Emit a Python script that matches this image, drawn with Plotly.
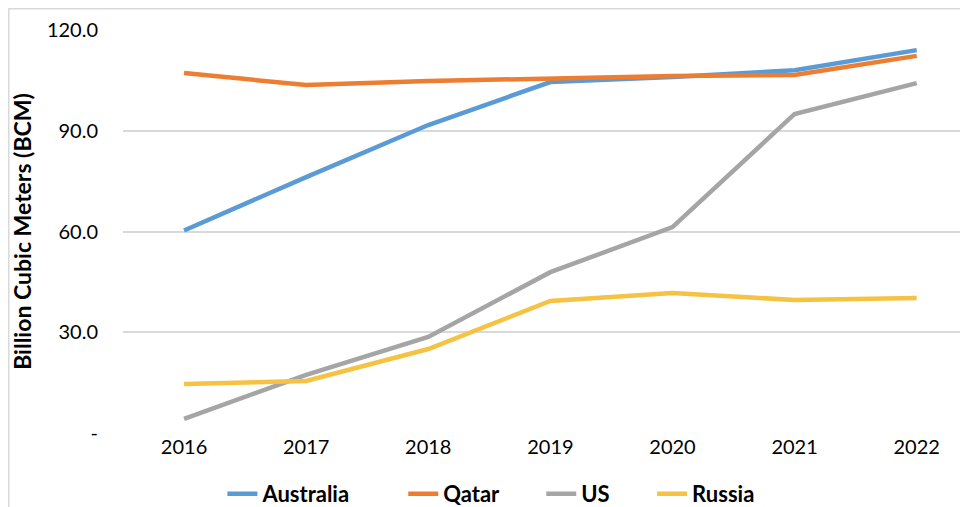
import plotly.graph_objects as go

years = ["2016", "2017", "2018", "2019", "2020", "2021", "2022"]
australia = [60.3, 76.2, 91.7, 104.5, 106.0, 108.0, 114.0]
qatar = [107.2, 103.6, 104.8, 105.7, 106.3, 106.6, 112.3]
us = [4.2, 17.3, 28.6, 47.9, 61.3, 95.0, 104.2]
russia = [14.6, 15.5, 25.0, 39.3, 41.7, 39.6, 40.2]

series = [
    ("Australia", australia, "#5B9BD5"),
    ("Qatar", qatar, "#ED7D31"),
    ("US", us, "#A5A5A5"),
    ("Russia", russia, "#F5C242"),
]

y_tickvals = [0, 30, 60, 90, 120]
y_ticktext = ["-", "30.0", "60.0", "90.0", "120.0"]

FONT = "Lato, 'Open Sans', sans-serif"
PADS = [9, 7, 7, 0]

fig = go.Figure()
for (name, vals, color), pad in zip(series, PADS):
    fig.add_trace(go.Scatter(
        x=years, y=vals, name=name + "\u00a0" * pad, mode="lines",
        line=dict(color=color, width=4.5),
    ))

fig.update_layout(
    width=960, height=499,
    margin=dict(l=115, r=0, t=22, b=74),
    paper_bgcolor="white", plot_bgcolor="white",
    font=dict(family=FONT, color="#000000", size=20),
    showlegend=True,
    legend=dict(
        orientation="h", xref="container", yref="container",
        x=0.503, xanchor="center", y=0.026, yanchor="middle",
        font=dict(family=FONT, size=22, weight="bold", color="#000000"),
        bgcolor="rgba(0,0,0,0)",
    ),
    xaxis=dict(
        type="category", range=[-0.5, 6.42],
        showgrid=False, showline=False, zeroline=False,
        ticks="", 
        tickfont=dict(size=20),
    ),
    yaxis=dict(
        range=[0, 120], tickvals=y_tickvals, ticktext=y_ticktext,
        showgrid=True, gridcolor="#D9D9D9", gridwidth=1.5,
        zeroline=False, showline=False,
        ticks="outside", ticklen=20, tickcolor="rgba(0,0,0,0)",
        tickfont=dict(size=20),
        title=dict(text="Billion Cubic Meters (BCM)",
                   font=dict(size=23, weight="bold"), standoff=10),
    ),
    shapes=[dict(
        type="rect", xref="paper", yref="paper",
        x0=(0.75 - 115) / 845, x1=1.2, y0=-0.5, y1=1 + 21.25 / 403,
        line=dict(color="#D9D9D9", width=1.5), fillcolor="rgba(0,0,0,0)",
        layer="below",
    )],
)

fig.write_html("out.html")
